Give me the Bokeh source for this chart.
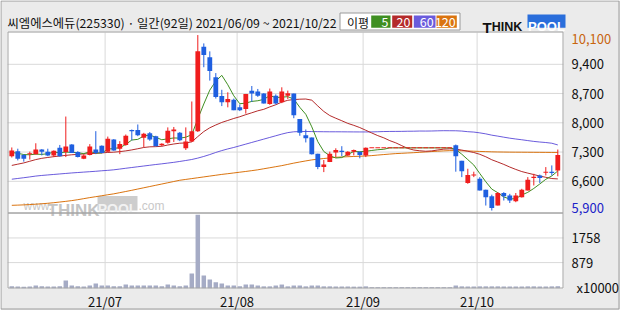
from bokeh.plotting import figure
from bokeh.models import Range1d
from bokeh.embed import file_html
from bokeh.resources import INLINE
from bokeh.core.properties import value
import numpy as np

# ---------------- data ----------------
title_text = "씨엠에스에듀(225330) · 일간(92일) 2021/06/09 ~ 2021/10/22"
legend_title = "이평"
legend_periods = ["5", "20", "60", "120"]

opens = [7200, 7320, 7230, 7250, 7250, 7360, 7310, 7220, 7400, 7300,
         7480, 7300, 7140, 7230, 7360, 7450, 7310, 7600, 7380, 7470,
         7830, 7830, 7640, 7750, 7680, 7460, 7520, 7800, 7760, 7390,
         7550, 7800, 9820, 9570, 9090, 8640, 8490, 8550, 8370, 8330,
         8770, 8750, 8700, 8450, 8650, 8490, 8650, 8700, 8090, 7700,
         7650, 7260, 6940, 7060, 7290, 7330, 7220, 7310, 7310, 7220,
         7400, 7400, 7400, 7400, 7400, 7400, 7400, 7400, 7400, 7400,
         7400, 7400, 7400, 7400, 7460, 7090, 6560, 6740, 6660, 6400,
         6240, 6020, 6320, 6260, 6120, 6220, 6380, 6680, 6740, 6810,
         6830, 6860]
highs = [7410, 7380, 7250, 7310, 7510, 7370, 7380, 7340, 7470, 8150,
         7490, 7320, 7250, 7490, 7800, 7460, 7670, 7610, 7560, 7720,
         7840, 7960, 7760, 7780, 7690, 7510, 7890, 7900, 7780, 7890,
         8510, 10100, 9900, 9710, 9190, 8790, 8730, 8580, 8440, 8690,
         8880, 8810, 8710, 8820, 8680, 8850, 8770, 8700, 8090, 7840,
         7650, 7260, 7110, 7310, 7390, 7440, 7320, 7360, 7310, 7410,
         7400, 7400, 7400, 7400, 7400, 7400, 7400, 7400, 7400, 7400,
         7400, 7400, 7400, 7400, 7480, 7090, 6900, 6830, 6700, 6400,
         6280, 6340, 6340, 6300, 6320, 6420, 6700, 6780, 6760, 6940,
         6980, 7360]
lows = [7170, 7100, 7070, 7120, 7240, 7220, 7200, 7180, 7190, 7180,
        7280, 7170, 7130, 7220, 7250, 7270, 7300, 7330, 7250, 7450,
        7580, 7680, 7420, 7570, 7440, 7440, 7500, 7540, 7560, 7350,
        7540, 7780, 9330, 9010, 8580, 8400, 8370, 8300, 8280, 8220,
        8500, 8620, 8460, 8430, 8440, 8470, 8570, 8110, 7690, 7530,
        7240, 6890, 6820, 7060, 7180, 7200, 7200, 7220, 7150, 7180,
        7400, 7400, 7400, 7400, 7400, 7400, 7400, 7400, 7400, 7400,
        7400, 7400, 7400, 7400, 6830, 6700, 6540, 6700, 6380, 6020,
        5900, 6020, 6140, 6080, 6100, 6210, 6380, 6500, 6560, 6740,
        6740, 6720]
closes = [7340, 7140, 7140, 7270, 7360, 7310, 7220, 7330, 7200, 7430,
          7280, 7180, 7220, 7430, 7280, 7280, 7620, 7340, 7490, 7690,
          7800, 7700, 7740, 7600, 7440, 7500, 7810, 7840, 7580, 7550,
          7800, 9710, 9620, 9240, 8620, 8490, 8570, 8300, 8300, 8690,
          8700, 8650, 8460, 8750, 8460, 8750, 8710, 8180, 7760, 7630,
          7250, 6940, 7000, 7260, 7350, 7300, 7310, 7350, 7230, 7400,
          7400, 7400, 7400, 7400, 7400, 7400, 7400, 7400, 7400, 7400,
          7400, 7400, 7400, 7400, 7200, 6840, 6750, 6760, 6380, 6220,
          5960, 6320, 6240, 6140, 6260, 6400, 6640, 6710, 6680, 6820,
          6800, 7230]
volumes = [30, 25, 20, 25, 60, 30, 25, 25, 30, 240,
           60, 30, 25, 60, 130, 60, 60, 30, 30, 95,
           60, 60, 60, 60, 60, 30, 95, 60, 30, 60,
           490, 2590, 420, 275, 180, 130, 60, 60, 30, 95,
           95, 60, 30, 30, 60, 95, 30, 60, 60, 30,
           60, 60, 30, 30, 25, 25, 25, 20, 20, 30,
           0, 0, 0, 0, 0, 0, 0, 0, 0, 0,
           0, 0, 0, 0, 60, 30, 25, 25, 30, 30,
           30, 30, 25, 25, 25, 25, 30, 30, 25, 25,
           30, 35]
ma5 = [7290, 7270, 7240, 7235, 7250, 7244, 7260, 7298, 7284, 7298,
       7292, 7284, 7262, 7308, 7278, 7278, 7366, 7390, 7402, 7484,
       7588, 7604, 7684, 7706, 7654, 7594, 7617, 7637, 7633, 7655,
       7716, 8094, 8450, 8783, 8998, 9136, 8910, 8646, 8456, 8471,
       8512, 8528, 8560, 8651, 8604, 8614, 8625, 8568, 8370, 8203,
       7903, 7549, 7313, 7213, 7158, 7168, 7243, 7313, 7308, 7318,
       7338, 7356, 7367, 7400, 7400, 7400, 7400, 7400, 7400, 7400,
       7400, 7400, 7400, 7400, 7360, 7248, 7119, 6990, 6786, 6589,
       6413, 6327, 6225, 6177, 6185, 6273, 6336, 6429, 6536, 6648,
       6729, 6847]
ma20 = [6980, 7010, 7040, 7080, 7120, 7150, 7170, 7190, 7205, 7220,
        7235, 7245, 7255, 7262, 7270, 7280, 7290, 7297, 7310, 7328,
        7351, 7379, 7409, 7425, 7429, 7438, 7468, 7493, 7512, 7518,
        7544, 7670, 7790, 7881, 7948, 8009, 8056, 8104, 8145, 8195,
        8240, 8287, 8323, 8381, 8432, 8495, 8539, 8556, 8565, 8569,
        8541, 8403, 8272, 8173, 8109, 8049, 7986, 7939, 7886, 7821,
        7756, 7693, 7640, 7573, 7520, 7452, 7387, 7348, 7330, 7319,
        7327, 7350, 7370, 7377, 7370, 7347, 7319, 7289, 7246, 7187,
        7115, 7061, 7004, 6941, 6884, 6833, 6796, 6761, 6725, 6696,
        6666, 6657]
ma60 = [6650, 6668, 6686, 6705, 6725, 6740, 6752, 6764, 6776, 6788,
        6800, 6810, 6820, 6830, 6840, 6852, 6862, 6875, 6893, 6912,
        6930, 6948, 6966, 6984, 7002, 7018, 7036, 7054, 7075, 7098,
        7122, 7155, 7195, 7240, 7290, 7335, 7375, 7410, 7450, 7490,
        7530, 7570, 7610, 7650, 7690, 7730, 7765, 7785, 7790, 7792,
        7790, 7788, 7786, 7785, 7785, 7784, 7783, 7782, 7781, 7781,
        7782, 7786, 7791, 7793, 7794, 7795, 7798, 7799, 7803, 7802,
        7804, 7808, 7811, 7810, 7809, 7802, 7787, 7778, 7759, 7735,
        7704, 7681, 7656, 7632, 7612, 7594, 7574, 7555, 7540, 7528,
        7511, 7470]
ma120 = [6025, 6030, 6036, 6043, 6052, 6062, 6074, 6088, 6104, 6120,
         6138, 6160, 6185, 6210, 6232, 6255, 6278, 6300, 6328, 6356,
         6385, 6415, 6445, 6475, 6505, 6535, 6565, 6595, 6625, 6645,
         6665, 6685, 6705, 6725, 6745, 6765, 6782, 6800, 6818, 6836,
         6855, 6875, 6900, 6925, 6950, 6975, 7005, 7035, 7062, 7088,
         7112, 7130, 7145, 7160, 7175, 7182, 7188, 7194, 7200, 7205,
         7215, 7228, 7240, 7252, 7263, 7270, 7278, 7285, 7294, 7303,
         7312, 7320, 7328, 7334, 7334, 7330, 7326, 7320, 7315, 7310,
         7305, 7302, 7300, 7298, 7297, 7296, 7295, 7294, 7293, 7292,
         7291, 7290]

month_idx = [16, 38, 59, 78]          # first trading day of each month
month_labels = ["21/07", "21/08", "21/09", "21/10"]
price_ticks = [6600, 7300, 8000, 8700, 9400]
vol_ticks = [879, 1758]
vol_unit = "x10000"

# ---------------- style / geometry ----------------
BG = "#ebebeb"
FRAME = "#a4a4a4"
OUTER = "#9c9c9c"
GRID = "#d9d9d9"
RED = "#f01d1d"
BLUE = "#1f5fe0"
MA_COLORS = ["#3f8f22", "#b42b2b", "#6a5bdc", "#da7410"]
VOL_COLOR = "#a5abc5"
FONT = "Noto Sans CJK KR"
LOGO_FONT = "Liberation Sans"

W, H = 620, 310
PX_PER_BAR = 6.0
X0_PX = 11.3                 # page x of the first candle centre
P_REF_PY, P_REF = 122.3, 8000
P_PER_PX = 700 / 29.25
V_ZERO_PY = 286.7
V_PER_PX = 35.7
PANEL_L, PANEL_R = 7, 563
PRICE_T, PRICE_B, VOL_B = 32, 213, 288


def px2x(px):
    return (px - X0_PX) / PX_PER_BAR


def py2p(py):
    return P_REF - (py - P_REF_PY) * P_PER_PX


def py2v(py):
    return (V_ZERO_PY - py) * V_PER_PX


n = len(closes)
idx = np.arange(n)
o = np.array(opens, float)
c = np.array(closes, float)
h = np.array(highs, float)
lo = np.array(lows, float)
up = c >= o
cols = np.where(up, RED, BLUE).tolist()
top = np.maximum(o, c)
bot = np.minimum(o, c)
thin = (top - bot) < 24
mid = (top + bot) / 2
top = np.where(thin, mid + 12, top)
bot = np.where(thin, mid - 12, bot)

p = figure(width=W, height=H, x_range=Range1d(px2x(0), px2x(W)),
           y_range=Range1d(py2p(H), py2p(0)),
           x_axis_type=None, y_axis_type=None, toolbar_location=None,
           output_backend="svg", min_border=0)
p.extra_x_ranges = {"px": Range1d(0, W)}
p.extra_y_ranges = {"py": Range1d(H, 0), "vol": Range1d(py2v(H), py2v(0))}
p.outline_line_color = None
p.background_fill_color = BG
p.border_fill_color = BG
p.grid.visible = False

PXY = dict(x_range_name="px", y_range_name="py")

# panels
p.quad(left=[PANEL_L, PANEL_L], right=[PANEL_R, PANEL_R], top=[PRICE_T, PRICE_B],
       bottom=[PRICE_B, VOL_B], fill_color="white", line_color=None, **PXY)

# grid lines
grid_x = [m - 0.45 for m in month_idx]
p.segment(x0=PANEL_L, x1=PANEL_R, y0=price_ticks, y1=price_ticks,
          line_color=GRID, line_width=1, x_range_name="px")
p.segment(x0=PANEL_L, x1=PANEL_R, y0=vol_ticks, y1=vol_ticks,
          line_color=GRID, line_width=1, x_range_name="px", y_range_name="vol")
p.segment(x0=grid_x, x1=grid_x, y0=PRICE_T, y1=VOL_B, line_color=GRID, line_width=1,
          y_range_name="py")

# watermark
p.text(x=[23], y=[205], text=["www."], text_font=value(LOGO_FONT), text_font_size="12px",
       text_color="#c8c8c8", text_baseline="middle", **PXY)
p.text(x=[47], y=[209.5], text=["THINK"], text_font=value(LOGO_FONT), text_font_size="17px",
       text_font_style="bold", text_color="#c4c4c4", text_baseline="alphabetic", **PXY)
p.quad(left=[97], right=[137], top=[195.5], bottom=[210], fill_color="#cdcdcd",
       line_color=None, **PXY)
p.text(x=[117], y=[208.5], text=["POOL"], text_font=value(LOGO_FONT), text_font_size="14px",
       text_font_style="bold", text_color="#f2f2f2", text_align="center",
       text_baseline="alphabetic", **PXY)
p.text(x=[138], y=[205], text=[".com"], text_font=value(LOGO_FONT), text_font_size="12px",
       text_color="#c8c8c8", text_baseline="middle", **PXY)

# moving averages
for ma, col in zip([ma120, ma60, ma20, ma5], MA_COLORS[::-1]):
    p.line(idx, ma, line_color=col, line_width=1)

# candles
p.segment(x0=idx, y0=h, x1=idx, y1=lo, line_color=cols, line_width=1)
p.vbar(x=idx, width=0.8, top=top, bottom=bot, fill_color=cols, line_color=None)

# volume
p.vbar(x=idx, width=0.75, top=volumes, bottom=-36, fill_color=VOL_COLOR, line_color=None,
       y_range_name="vol")

# panel outlines and outer border
p.quad(left=[PANEL_L + 0.5, PANEL_L + 0.5], right=[PANEL_R - 0.5, PANEL_R - 0.5],
       top=[PRICE_T - 0.5, PRICE_B - 0.5], bottom=[PRICE_B - 0.5, VOL_B - 0.5],
       fill_color=None, line_color=FRAME, line_width=1, **PXY)
p.quad(left=[0.5], right=[W - 1.5], top=[0.5], bottom=[H - 1.5], fill_color=None,
       line_color=OUTER, line_width=1, **PXY)

# header: title
p.text(x=[7], y=[22.6], text=[title_text], text_font=value(FONT), text_font_size="12.3px",
       text_color="#111111", text_baseline="middle", **PXY)
# header: legend
p.quad(left=[339.5], right=[459.5], top=[12.5], bottom=[29.5], fill_color="white",
       line_color="#9a9a9a", line_width=1, **PXY)
p.text(x=[346.5], y=[21.8], text=[legend_title], text_font=value(FONT), text_font_size="12px",
       text_color="#111111", text_baseline="middle", **PXY)
p.quad(left=[370.7, 391.7, 413.3, 436.0], right=[390.0, 411.7, 435.0, 456.3],
       top=15, bottom=27.3, fill_color=MA_COLORS, line_color=None, **PXY)
p.text(x=[388.0, 410.0, 433.2, 455.2], y=21.4, text=legend_periods, text_font=value(FONT),
       text_font_size="12.5px", text_color="white", text_align="right",
       text_baseline="middle", **PXY)
# header: logo
p.text(x=[482], y=[26.6], text=["T"], text_font=value(LOGO_FONT), text_font_style="bold",
       text_font_size="15px", text_color="#111111", text_baseline="alphabetic", **PXY)
p.text(x=[491.3], y=[26.6], text=["HINK"], text_font=value(LOGO_FONT), text_font_style="bold",
       text_font_size="12.5px", text_color="#111111", text_baseline="alphabetic", **PXY)
p.quad(left=[527], right=[565], top=[14], bottom=[27.3], fill_color="#2a6edb",
       line_color=None, **PXY)
p.text(x=[546], y=[26.0], text=["POOL"], text_font=value(LOGO_FONT), text_font_style="bold",
       text_font_size="13px", text_color="white", text_align="center",
       text_baseline="alphabetic", **PXY)

# right price labels
hi_val = int(max(highs))
lo_val = int(min(lows))
p.text(x=571, y=price_ticks, text=[f"{v:,}" for v in price_ticks], text_font=value(FONT),
       text_font_size="13px", text_color="#111111", text_baseline="middle", x_range_name="px")
p.text(x=[571], y=[hi_val], text=[f"{hi_val:,}"], y_offset=4, text_font=value(FONT),
       text_font_size="13px", text_color="#c8650f", text_baseline="middle", x_range_name="px")
p.text(x=[571], y=[lo_val], text=[f"{lo_val:,}"], y_offset=-3, text_font=value(FONT),
       text_font_size="13px", text_color="#1c22c8", text_baseline="middle", x_range_name="px")

# volume labels
p.text(x=571, y=vol_ticks, text=[str(v) for v in vol_ticks], text_font=value(FONT),
       text_font_size="13px", text_color="#111111", text_baseline="middle",
       x_range_name="px", y_range_name="vol")
p.text(x=[576], y=[0], text=[vol_unit], text_font=value(FONT), text_font_size="13px",
       text_color="#111111", text_baseline="middle", x_range_name="px", y_range_name="vol")

# month labels
p.text(x=grid_x, y=301, text=month_labels, text_font=value(FONT), text_font_size="13px",
       text_color="#111111", text_align="center", text_baseline="middle", y_range_name="py")

open("out.html", "w").write(file_html(p, INLINE))
